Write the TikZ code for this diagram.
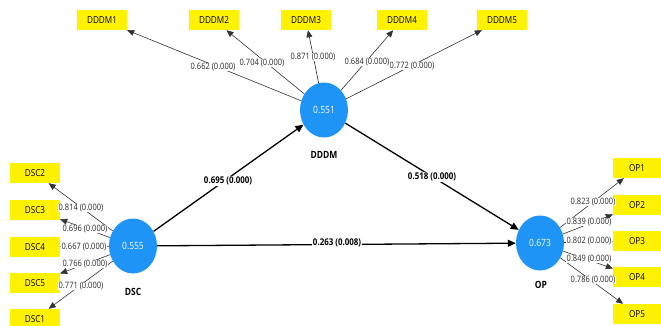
\documentclass[tikz,border=0pt]{standalone}
\usepackage{fontspec}
\setmainfont{Open Sans}[FakeStretch=0.85]
\usetikzlibrary{arrows.meta,shapes.geometric}
\definecolor{lvblue}{HTML}{1E94F6}
\begin{document}
\begin{tikzpicture}[x=1pt,y=-1pt,
  lv/.style={ellipse,fill=lvblue,minimum width=48pt,minimum height=55pt,inner sep=0pt,text=white,font=\fontsize{10}{12}\selectfont},
  lvname/.style={font=\bfseries\fontsize{10}{12}\selectfont},
  box/.style={fill=yellow,minimum width=50pt,minimum height=20pt,inner sep=0pt,font=\fontsize{9.6}{11}\selectfont},
  opbox/.style={box,minimum width=48pt},
  ind/.style={draw=black!80,line width=0.6pt,-{Triangle[length=7pt,width=6pt]}},
  structural/.style={draw=black,line width=1.3pt,-{Triangle[length=8pt,width=7pt]}},
  lab/.style={fill=white,inner sep=0.6pt,text=black!85,font=\fontsize{8.8}{10}\selectfont},
  blab/.style={fill=white,inner sep=1pt,font=\bfseries\fontsize{9.3}{11}\selectfont}]
\useasboundingbox (0,0) rectangle (661,325);

% latent variables
\node[lv] (DDDM) at (324,110) {0.551};
\node[lv] (DSC) at (133,246) {0.555};
\node[lv] (OP) at (540,243) {0.673};
\node[lvname] (nDDDM) at (324,155) {DDDM};
\node[lvname] (nDSC) at (133,292) {DSC};
\node[lvname] (nOP) at (541,285) {OP};

% indicators
\node[box] (d1) at (102,20) {DDDM1};
\node[box] (d2) at (214,20) {DDDM2};
\node[box] (d3) at (306,20) {DDDM3};
\node[box] (d4) at (402,20) {DDDM4};
\node[box] (d5) at (502,20) {DDDM5};

\node[box] (s2) at (35,173) {DSC2};
\node[box] (s3) at (35,210) {DSC3};
\node[box] (s4) at (35,247) {DSC4};
\node[box] (s5) at (35,283) {DSC5};
\node[box] (s1) at (35,319) {DSC1};

\node[opbox] (o1) at (637,168) {OP1};
\node[opbox] (o2) at (637,205) {OP2};
\node[opbox] (o3) at (637,241) {OP3};
\node[opbox] (o4) at (637,277) {OP4};
\node[opbox] (o5) at (637,314) {OP5};

% measurement connectors
\foreach \t in {d1,d2,d3,d4,d5} \draw[ind] (DDDM) -- (\t);
\foreach \t in {s1,s2,s3,s4,s5} \draw[ind] (DSC) -- (\t);
\foreach \t in {o1,o2,o3,o4,o5} \draw[ind] (OP) -- (\t);

% structural connectors
\draw[structural] (DSC) -- (DDDM);
\draw[structural] (DDDM) -- (OP);
\draw[structural] (DSC) -- (OP);

% loading labels
\node[lab] (l1) at (213,67) {0.662 (0.000)};
\node[lab] (l2) at (262,63) {0.704 (0.000)};
\node[lab] (l3) at (313,57) {0.871 (0.000)};
\node[lab] (l5) at (412,66) {0.772 (0.000)};
\node[lab] (l4) at (367,62) {0.684 (0.000)};

\node[lab] (m2) at (81,208) {0.814 (0.000)};
\node[lab] (m3) at (85,229) {0.696 (0.000)};
\node[lab] (m4) at (84,247) {0.667 (0.000)};
\node[lab] (m5) at (85,264) {0.766 (0.000)};
\node[lab] (m1) at (81,286) {0.771 (0.000)};

\node[lab] (p1) at (593,202) {0.823 (0.000)};
\node[lab] (p2) at (589,222) {0.839 (0.000)};
\node[lab] (p3) at (589,241) {0.802 (0.000)};
\node[lab] (p4) at (589,259) {0.849 (0.000)};
\node[lab] (p5) at (593,280) {0.786 (0.000)};

% path coefficients
\node[blab] (c1) at (228,181) {0.695 (0.000)};
\node[blab] (c2) at (432,177) {0.518 (0.000)};
\node[blab] (c3) at (337,243) {0.263 (0.008)};
\end{tikzpicture}
\end{document}
